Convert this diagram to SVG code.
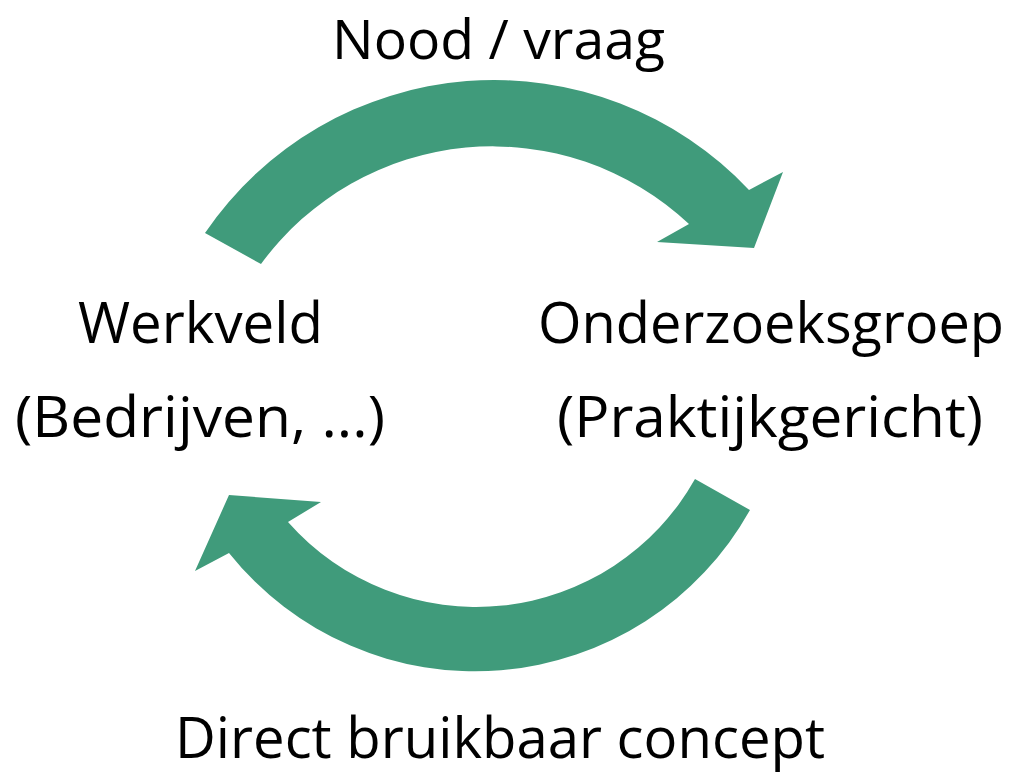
<svg xmlns="http://www.w3.org/2000/svg" width="1015" height="773" viewBox="0 0 1015 773">
<style>
.lbl{font-family:"Open Sans","Noto Sans","Liberation Sans",sans-serif;font-size:57px;fill:#000;text-anchor:middle}
.arrow{fill:#409B7B;stroke:none}
</style>
<rect width="1015" height="773" fill="#fff"/>
<g id="connectors">
<path id="arrow-top" class="arrow" d="M205,233 A350,350 0 0 1 749,190 L783,172 L754,248 L657,242 L689,224 A287,287 0 0 0 261,264 Z"/>
<path id="arrow-bottom" class="arrow" d="M750,510 A315,315 0 0 1 229,553 L195,571 L229,495 L321,502 L288,522 A251,251 0 0 0 695,479 Z"/>
</g>
<g id="label-top"><text class="lbl" x="498.5" y="59" style="font-size:55px" textLength="333" lengthAdjust="spacingAndGlyphs">Nood / vraag</text></g>
<g id="node-werkveld">
<text class="lbl" x="200.5" y="343" textLength="245" lengthAdjust="spacingAndGlyphs">Werkveld</text>
<text class="lbl" x="200" y="437" textLength="370" lengthAdjust="spacingAndGlyphs">(Bedrijven, ...)</text>
</g>
<g id="node-onderzoeksgroep">
<text class="lbl" x="771" y="343" textLength="466" lengthAdjust="spacingAndGlyphs">Onderzoeksgroep</text>
<text class="lbl" x="770" y="437" textLength="426" lengthAdjust="spacingAndGlyphs">(Praktijkgericht)</text>
</g>
<g id="label-bottom"><text class="lbl" x="500" y="758" textLength="650" lengthAdjust="spacingAndGlyphs">Direct bruikbaar concept</text></g>
</svg>
